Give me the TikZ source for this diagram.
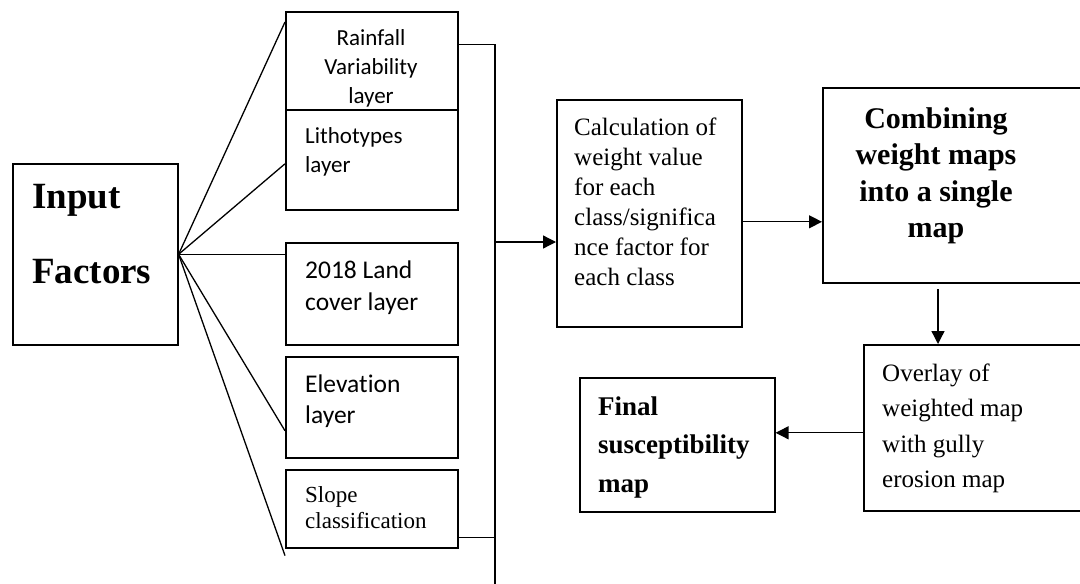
\documentclass[tikz,border=0pt]{standalone}
\usepackage{fontspec}
\setmainfont{Liberation Serif}
\newfontfamily\calibri[Ligatures=NoCommon]{Carlito}
\usetikzlibrary{arrows.meta}
\begin{document}
\begin{tikzpicture}[x=1pt,y=-1pt,
  box/.style={draw,line width=1.6pt,rectangle,inner sep=0pt,anchor=north west},
  txt/.style={inner sep=0pt,text width=#1,align=flush left},
  txt/.default=260pt,
  link/.style={line width=1.3pt},
  arr/.style={line width=1.3pt,-{Triangle[length=13pt,width=13pt]}}]
\useasboundingbox (0,0) rectangle (1080,584);
\clip (0,0) rectangle (1080,584);
% boxes
\node[box,minimum width=165pt,minimum height=181pt] (in) at (12,163) {};
\node[box,minimum width=172pt,minimum height=98pt] (rain) at (285,11) {};
\node[box,minimum width=172pt,minimum height=100pt] (lith) at (285,109) {};
\node[box,minimum width=172pt,minimum height=102pt] (land) at (285,242) {};
\node[box,minimum width=172pt,minimum height=101pt] (elev) at (285,356) {};
\node[box,minimum width=172pt,minimum height=78pt] (slope) at (285,469) {};
\node[box,minimum width=185pt,minimum height=227pt] (calc) at (556,99) {};
\node[box,minimum width=278pt,minimum height=195pt] (comb) at (822,87) {};
\node[box,minimum width=237pt,minimum height=166pt] (over) at (863,344) {};
\node[box,minimum width=195pt,minimum height=134pt] (final) at (579,377) {};
% texts
\node[txt,anchor=base west,font=\bfseries\fontsize{37}{75}\selectfont] (tin) at (32,208) {Input\\Factors};
\node[txt=172pt,align=flush center,anchor=base,font=\calibri\fontsize{23}{29}\selectfont] (train) at (371,45) {Rainfall\\Variability\\layer};
\node[txt,anchor=base west,font=\calibri\fontsize{23}{29}\selectfont] (tlith) at (305,143) {Lithotypes\\layer};
\node[txt,anchor=base west,font=\calibri\fontsize{25.5}{32}\selectfont] (tland) at (305,278) {2018 Land\\cover layer};
\node[txt,anchor=base west,font=\calibri\fontsize{25.5}{31}\selectfont] (telev) at (305,392) {Elevation\\layer};
\node[txt,anchor=base west,font=\fontsize{23}{26}\selectfont] (tslope) at (305,502) {Slope\\classification};
\node[txt,anchor=base west,font=\fontsize{25}{30}\selectfont] (tcalc) at (574,135) {Calculation of\\weight value\\for each\\class/significa\\nce factor for\\each class};
\node[txt=300pt,align=flush center,anchor=base,font=\bfseries\fontsize{30}{36.5}\selectfont] (tcomb) at (936,128) {Combining\\weight maps\\into a single\\map};
\node[txt,anchor=base west,font=\fontsize{25}{35.5}\selectfont] (tover) at (882,381) {Overlay of\\weighted map\\with gully\\erosion map};
\node[txt,anchor=base west,font=\bfseries\fontsize{27}{38.5}\selectfont] (tfinal) at (598,415) {Final\\susceptibility\\map};
% fan
\coordinate (fan) at (in.east);
\draw[link] (fan) -- ([yshift=-11pt]rain.north west);
\draw[link] (fan) -- ([yshift=-4pt]lith.west);
\draw[link] (fan) -- (land.west |- fan);
\draw[link] (fan) -- ([yshift=-23.5pt]elev.west);
\coordinate (fanend) at ([yshift=-7pt]slope.south west);
\draw[link] (fan) -- (fanend);
% bus
\coordinate (busbot) at (495,584);
\draw[link] ([yshift=16pt]rain.east) -| (busbot);
\draw[link] ([yshift=-29pt]slope.east) -- ([yshift=-29pt]slope.east -| busbot);
\coordinate (busmid) at (495,242);
\draw[arr] (busmid) -- (calc.west |- busmid);
% main chain
\coordinate (c1) at ([yshift=-8.5pt]calc.east);
\draw[arr] (c1) -- (comb.west |- c1);
\coordinate (c2) at (938,289);
\draw[arr] (c2) -- (over.north -| c2);
\coordinate (c3) at ([yshift=-5pt]over.west);
\draw[arr] (c3) -- (final.east |- c3);
\end{tikzpicture}
\end{document}
